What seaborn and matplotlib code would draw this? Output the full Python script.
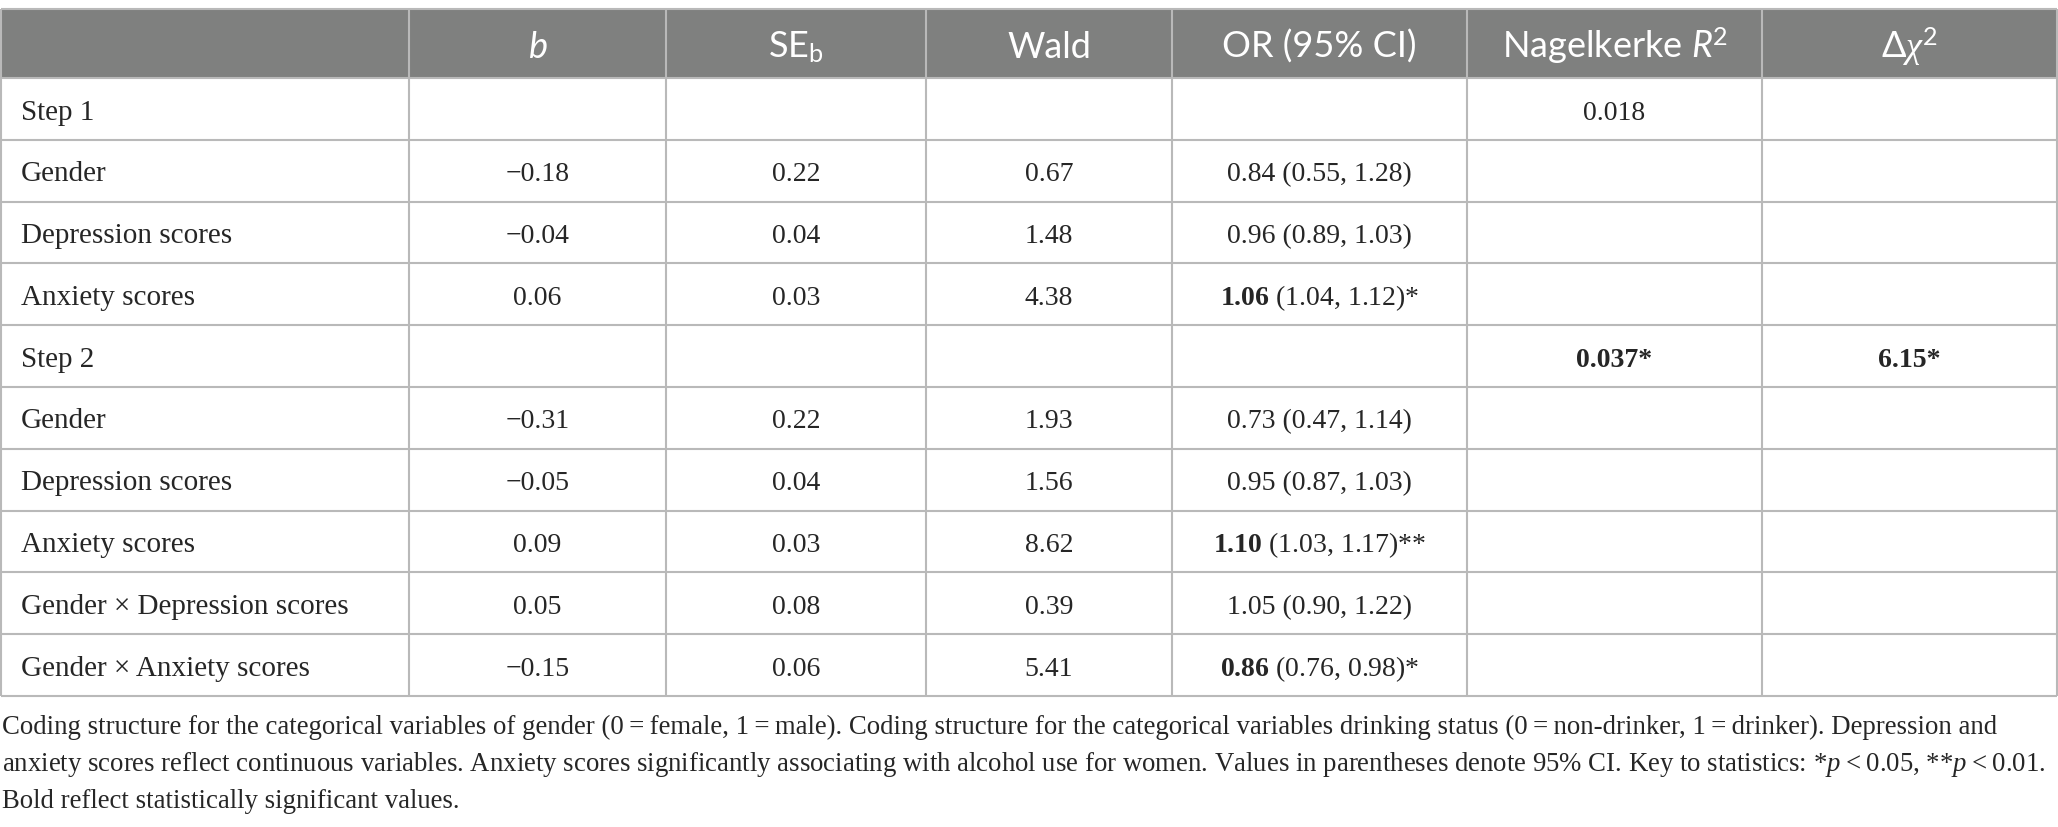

# logistic regression table, redrawn as a figure

import pandas as pd
import matplotlib.pyplot as plt
import seaborn as sns

# table contents
row_labels = ['Step 1', 'Gender', 'Depression scores', 'Anxiety scores',
              'Step 2', 'Gender', 'Depression scores', 'Anxiety scores',
              'Gender \u00d7 Depression scores', 'Gender \u00d7 Anxiety scores']
b_vals = ['', '\u22120.18', '\u22120.04', '0.06', '', '\u22120.31', '\u22120.05', '0.09', '0.05', '\u22120.15']
se_vals = ['', '0.22', '0.04', '0.03', '', '0.22', '0.04', '0.03', '0.08', '0.06']
wald_vals = ['', '0.67', '1.48', '4.38', '', '1.93', '1.56', '8.62', '0.39', '5.41']
or_vals = ['', '0.84', '0.96', '1.06', '', '0.73', '0.95', '1.10', '1.05', '0.86']
ci_vals = ['', '(0.55, 1.28)', '(0.89, 1.03)', '(1.04, 1.12)*', '',
           '(0.47, 1.14)', '(0.87, 1.03)', '(1.03, 1.17)**', '(0.90, 1.22)', '(0.76, 0.98)*']
or_bold = [False, False, False, True, False, False, False, True, False, True]
r2_vals = ['0.018', '', '', '', '0.037*', '', '', '', '', '']
chi_vals = ['', '', '', '', '6.15*', '', '', '', '', '']
stat_bold = [False, False, False, False, True, False, False, False, False, False]

headers = ['', r'$\mathsf{b}$', r'SE$_{\mathrm{b}}$', 'Wald', 'OR (95% CI)',
           r'Nagelkerke $\mathsf{R}^{\mathrm{2}}$', r'$\Delta\chi^{\mathrm{2}}$']

footnote = [
    'Coding structure for the categorical variables of gender (0\u2009=\u2009female, 1\u2009=\u2009male). '
    'Coding structure for the categorical variables drinking status (0\u2009=\u2009non-drinker, 1\u2009=\u2009drinker). Depression and',
    'anxiety scores reflect continuous variables. Anxiety scores significantly associating with alcohol use for women. '
    'Values in parentheses denote 95% CI. Key to statistics: *$p$\u2009<\u20090.05, **$p$\u2009<\u20090.01.',
    'Bold reflect statistically significant values.',
]

table = pd.DataFrame({'label': row_labels, 'b': b_vals, 'se': se_vals, 'wald': wald_vals,
                      'or': or_vals, 'ci': ci_vals, 'or_bold': or_bold,
                      'r2': r2_vals, 'chi': chi_vals, 'stat_bold': stat_bold})

sns.set_theme(style='white')
plt.rcParams['font.family'] = ['Liberation Serif', 'DejaVu Serif']
plt.rcParams['mathtext.fontset'] = 'custom'
plt.rcParams['mathtext.rm'] = 'Lato'
plt.rcParams['mathtext.sf'] = 'Lato:italic'
plt.rcParams['mathtext.it'] = 'Liberation Serif:italic'
plt.rcParams['mathtext.bf'] = 'Liberation Serif:bold'

W, H = 2058, 827
fig = plt.figure(figsize=(W / 100, H / 100), dpi=100)
ax = fig.add_axes([0, 0, 1, 1])
ax.set_xlim(0, W)
ax.set_ylim(H, 0)
ax.axis('off')

col_edges = [1, 409, 666, 926, 1172, 1467, 1762, 2057]
head_top, head_bot = 9, 78
row_h = 61.8
row_edges = [head_bot + i * row_h for i in range(len(table) + 1)]
grid_c = '#b9b9b9'

# header band
ax.fill_between([col_edges[0], col_edges[-1]], head_top, head_bot, color='#7f807f', lw=0)
centers = [(col_edges[i] + col_edges[i + 1]) / 2 for i in range(len(col_edges) - 1)]
for x, h in zip(centers, headers):
    ax.text(x, 58, h, ha='center', va='baseline', color='white',
            fontsize=26, family='Lato')

# grid
ax.hlines([head_top] + row_edges, col_edges[0], col_edges[-1], color=grid_c, lw=1.5)
ax.vlines(col_edges, head_top, row_edges[-1], color=grid_c, lw=1.5)

fs = 20
for i, r in table.iterrows():
    yb = row_edges[i] + 41.5
    ax.text(21, yb, r['label'], ha='left', va='baseline', fontsize=21)
    for x, v in zip(centers[1:4], [r['b'], r['se'], r['wald']]):
        ax.text(x, yb, v, ha='center', va='baseline', fontsize=fs)
    if r['or']:
        s = (r'$\mathbf{%s}$ ' % r['or'] if r['or_bold'] else r['or'] + ' ') + r['ci']
        ax.text(centers[4], yb, s, ha='center', va='baseline', fontsize=fs)
    for x, v in zip(centers[5:], [r['r2'], r['chi']]):
        ax.text(x, yb, v, ha='center', va='baseline', fontsize=fs,
                weight='bold' if r['stat_bold'] else 'normal')

# footnote, sized so the first line fills the width
fn_texts = []
for k, line in enumerate(footnote):
    fn_texts.append(ax.text(2, 734 + k * 37, line, ha='left', va='baseline', fontsize=18))
fig.canvas.draw()
w0 = fn_texts[0].get_window_extent().width
for t in fn_texts:
    t.set_fontsize(18 * 1997 / w0)

fig.savefig('out.png', dpi=100)
